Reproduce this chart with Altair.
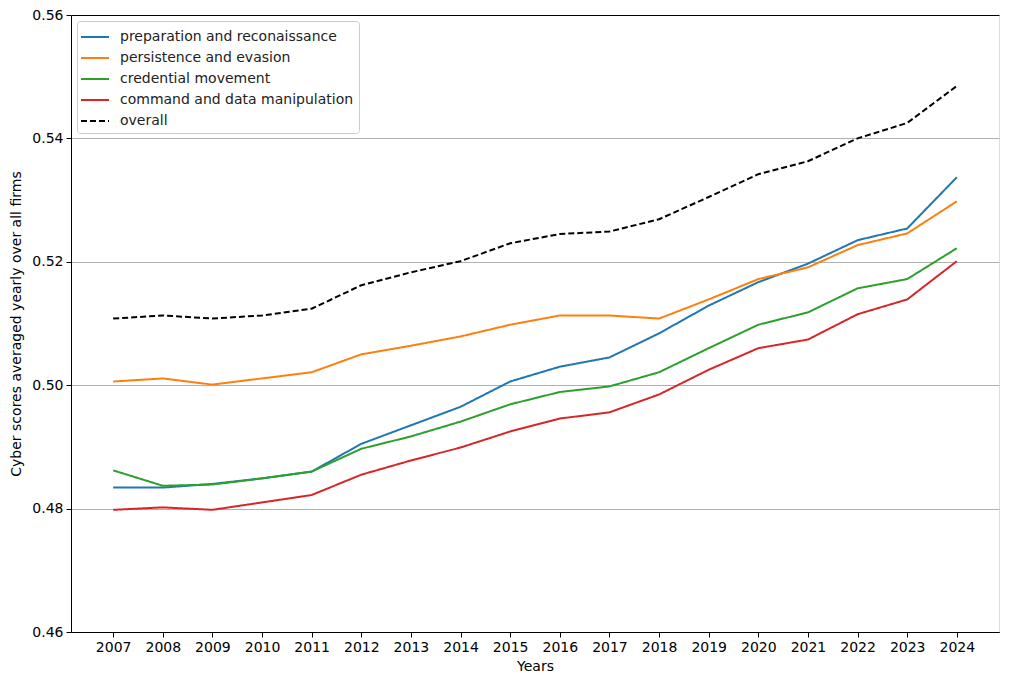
import altair as alt
import pandas as pd

years = list(range(2007, 2025))
prep = [0.4834, 0.4834, 0.4840, 0.4849, 0.4860, 0.4905, 0.4935, 0.4965, 0.5006, 0.5030,
        0.5045, 0.5084, 0.5129, 0.5167, 0.5197, 0.5235, 0.5254, 0.5337]
pers = [0.5006, 0.5011, 0.5001, 0.5011, 0.5021, 0.5050, 0.5064, 0.5079, 0.5098, 0.5113,
        0.5113, 0.5108, 0.5139, 0.5172, 0.5191, 0.5227, 0.5246, 0.5298]
cred = [0.4862, 0.4837, 0.4839, 0.4849, 0.4860, 0.4897, 0.4917, 0.4941, 0.4969, 0.4989,
        0.4998, 0.5021, 0.5060, 0.5098, 0.5118, 0.5157, 0.5172, 0.5222]
cmd = [0.4798, 0.4802, 0.4798, 0.4810, 0.4822, 0.4855, 0.4878, 0.4899, 0.4925, 0.4946,
       0.4956, 0.4985, 0.5025, 0.5060, 0.5074, 0.5115, 0.5139, 0.5201]
overall = [0.5108, 0.5113, 0.5108, 0.5113, 0.5124, 0.5162, 0.5183, 0.5201, 0.5230, 0.5245,
           0.5249, 0.5269, 0.5305, 0.5342, 0.5363, 0.5400, 0.5425, 0.5485]

names = ["preparation and reconaissance", "persistence and evasion", "credential movement",
         "command and data manipulation", "overall"]
colors = ["#1f77b4", "#ff7f0e", "#2ca02c", "#d62728", "#000000"]
dashes = [[1, 0], [1, 0], [1, 0], [1, 0], [6, 3]]

rows = []
for n, vals in zip(names, [prep, pers, cred, cmd, overall]):
    for y, v in zip(years, vals):
        rows.append({"year": y, "value": v, "series": n})
df = pd.DataFrame(rows)

font = "DejaVu Sans"
fs = 14
legend = alt.Legend(title=None, orient="top-left", offset=6, symbolType="M-1.2,0H1.6",
                    symbolSize=400, symbolStrokeWidth=2, labelFontSize=fs, labelFont=font,
                    labelColor="#222", strokeColor="#cccccc", fillColor="white", cornerRadius=3,
                    padding=5, rowPadding=3, labelOffset=16, labelLimit=400)

gridc = {"condition": {"test": "datum.value >= 0.559 || datum.value <= 0.461", "value": "black"},
         "value": "#b0b0b0"}

chart = alt.Chart(df).mark_line(strokeWidth=2).encode(
    x=alt.X("year:Q", scale=alt.Scale(domain=[2006.15, 2024.85], nice=False, zero=False),
            axis=alt.Axis(values=years, format="d", title="Years", grid=False,
                          labelFontSize=fs, titleFontSize=fs, labelFont=font, titleFont=font,
                          labelColor="black", titleColor="black", titleFontWeight="normal",
                          tickColor="black", domainColor="black", tickSize=5, labelPadding=3,
                          titlePadding=5, labelFlush=False)),
    y=alt.Y("value:Q", scale=alt.Scale(domain=[0.46, 0.56], nice=False, zero=False),
            axis=alt.Axis(values=[0.46, 0.48, 0.50, 0.52, 0.54, 0.56], format=".2f",
                          title="Cyber scores averaged yearly over all firms",
                          grid=True, gridColor=gridc, gridWidth=1,
                          labelFontSize=fs, titleFontSize=fs, labelFont=font, titleFont=font,
                          labelColor="black", titleColor="black", titleFontWeight="normal",
                          tickColor="black", domainColor="black", tickSize=5, labelPadding=3,
                          titlePadding=8, labelFlush=False)),
    color=alt.Color("series:N", scale=alt.Scale(domain=names, range=colors), legend=legend),
    strokeDash=alt.StrokeDash("series:N", scale=alt.Scale(domain=names, range=dashes), legend=legend),
).properties(
    width=928, height=617,
    autosize=alt.AutoSizeParams(type="none"),
    padding={"left": 63, "top": 7, "right": 3, "bottom": 50},
).configure_view(stroke="black", strokeWidth=1).configure(background="white")

chart.save("out.html", embed_options={"renderer": "svg", "actions": False})
